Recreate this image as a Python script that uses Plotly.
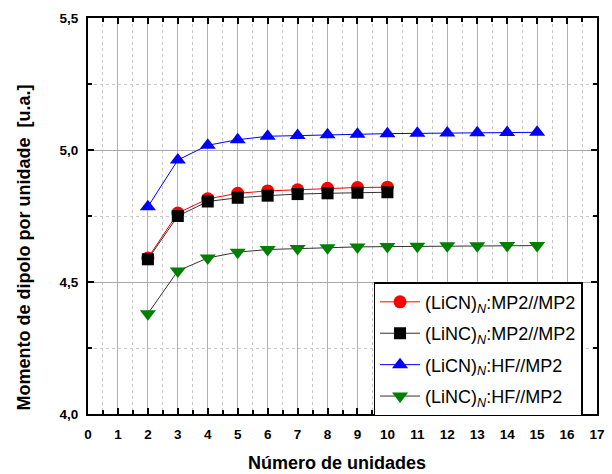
import plotly.graph_objects as go

n_mp2 = [2, 3, 4, 5, 6, 7, 8, 9, 10]
n_hf = [2, 3, 4, 5, 6, 7, 8, 9, 10, 11, 12, 13, 14, 15]

licn_mp2 = [4.591, 4.761, 4.815, 4.836, 4.845, 4.849, 4.855, 4.858, 4.859]
linc_mp2 = [4.586, 4.750, 4.805, 4.819, 4.827, 4.833, 4.836, 4.838, 4.840]
licn_hf = [4.785, 4.962, 5.018, 5.039, 5.052, 5.055, 5.058, 5.060, 5.062, 5.063, 5.064, 5.065, 5.066, 5.067]
linc_hf = [4.380, 4.542, 4.591, 4.613, 4.623, 4.627, 4.630, 4.633, 4.634, 4.635, 4.637, 4.637, 4.638, 4.638]

names = [
    "(LiCN)<sub><i>N</i></sub>:MP2//MP2",
    "(LiNC)<sub><i>N</i></sub>:MP2//MP2",
    "(LiCN)<sub><i>N</i></sub>:HF//MP2",
    "(LiNC)<sub><i>N</i></sub>:HF//MP2",
]

x_title = "Número de unidades"
y_title = "Momento de dipolo por unidade  [u.a.]"

FONT = "Liberation Sans, Arial, sans-serif"

fig = go.Figure()
series = [
    (n_mp2, licn_mp2, names[0], "red", "#ff0000", "circle", 13),
    (n_mp2, linc_mp2, names[1], "#333333", "black", "square", 12),
    (n_hf, licn_hf, names[2], "#0000ff", "#0000ff", "triangle-up", 14),
    (n_hf, linc_hf, names[3], "#333333", "#008000", "triangle-down", 14),
]
for i, (x, y, nm, lc, mc, sym, sz) in enumerate(series):
    fig.add_trace(go.Scatter(
        x=x, y=y, name=nm, mode="lines+markers",
        line=dict(color=lc, width=1),
        marker=dict(symbol=sym, size=sz, color=mc, line=dict(width=0)),
        legendgroup=f"g{i}",
    ))

axis_common = dict(
    showline=True, linecolor="black", linewidth=2, mirror="ticks",
    ticks="inside", ticklen=6, tickwidth=1.5, tickcolor="black",
    zeroline=False,
    tickfont=dict(family=FONT, size=13.5, color="black", weight="bold"),
)

fig.update_xaxes(
    range=[0, 17], dtick=1, tick0=0, ticklabelstandoff=7,
    showgrid=True, gridcolor="#b0b0b0", gridwidth=1.2,
    minor=dict(dtick=0.5, ticks="inside", ticklen=4, tickcolor="black",
               showgrid=True, gridcolor="#c8c8c8", griddash="dot", gridwidth=1),
    **axis_common,
)
fig.update_yaxes(
    range=[4.0, 5.5], dtick=0.5, tick0=4.0, tickformat=".1f", ticklabelstandoff=5,
    showgrid=True, gridcolor="#a8a8a8", gridwidth=1,
    minor=dict(dtick=0.25, ticks="inside", ticklen=4, tickcolor="black",
               showgrid=True, gridcolor="#c8c8c8", griddash="dot", gridwidth=1),
    **axis_common,
)

fig.add_annotation(
    text=y_title, xref="paper", yref="paper", x=-0.126, y=0.42,
    textangle=-90, showarrow=False, xanchor="center", yanchor="middle",
    font=dict(family=FONT, size=18, color="black", weight="bold"),
)
fig.add_annotation(
    text=x_title, xref="paper", yref="paper", x=0.49, y=-0.124,
    showarrow=False, xanchor="center", yanchor="middle",
    font=dict(family=FONT, size=18, color="black", weight="bold"),
)

fig.update_layout(
    width=612, height=474,
    margin=dict(l=88, r=7, t=18, b=60),
    paper_bgcolor="white", plot_bgcolor="white",
    separators=",.",
    showlegend=True,
    legend=dict(
        x=0.561, y=0.333, xanchor="left", yanchor="top",
        bgcolor="white", bordercolor="black", borderwidth=1.5,
        font=dict(family=FONT, size=18, color="black"),
        tracegroupgap=5, itemwidth=40,
    ),
)

fig.write_html("out.html")
